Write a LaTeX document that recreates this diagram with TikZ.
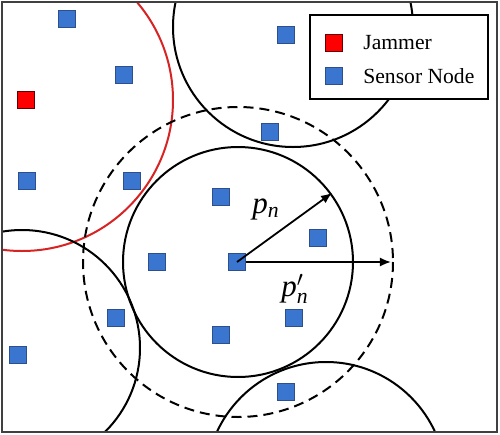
\documentclass[tikz,border=0pt]{standalone}
\usepackage{fontspec}
\setmainfont{Liberation Serif}
\usetikzlibrary{arrows.meta}

\definecolor{nodeblue}{RGB}{58,118,208}
\definecolor{nodeedge}{RGB}{45,80,140}
\definecolor{jamred}{RGB}{255,0,0}
\definecolor{rangered}{RGB}{215,35,35}

\begin{document}
\begin{tikzpicture}[>={Latex[length=5.5pt,width=4.5pt]}, x=0.5pt, y=-0.5pt,
  sensor/.style={draw=nodeedge, fill=nodeblue, line width=0.4pt, minimum size=8.2pt, inner sep=0pt},
  jammer/.style={sensor, draw=black!60!red, fill=jamred},
  rangeline/.style={line width=1pt},
  lbl/.style={font=\fontsize{15.5}{15.5}\selectfont}]

\useasboundingbox (0,0) rectangle (500,435);

%\draw[step=50, gray!30] (0,0) grid (500,435);

% ranges
\begin{scope}
\clip (2,2) rectangle (497,432);
\draw[rangeline, rangered] (22,100) circle (151);
\draw[rangeline] (293,27) circle (120);
\draw[rangeline] (22,348) circle (118);
\draw[rangeline] (326,482) circle (120);
\draw[rangeline] (238,262) circle (115);
\draw[rangeline, dash pattern=on 5pt off 3pt] (238,262) circle (155);
\end{scope}

\draw[line width=1pt, black!75] (2,2) rectangle (497,432);

% nodes
\node[jammer] (j) at (26,100) {};
\node[sensor] (s1) at (67,19) {};
\node[sensor] (s2) at (124,75) {};
\node[sensor] (s3) at (27,181) {};
\node[sensor] (s4) at (132,181) {};
\node[sensor] (s5) at (221,197) {};
\node[sensor] (s6) at (286,35) {};
\node[sensor] (s7) at (270,132) {};
\node[sensor] (s8) at (157,262) {};
\node[sensor] (s9) at (116,318) {};
\node[sensor] (s10) at (18,355) {};
\node[sensor] (s11) at (221,335) {};
\node[sensor] (s12) at (318,238) {};
\node[sensor] (s13) at (294,318) {};
\node[sensor] (s14) at (286,392) {};
\node[sensor] (c) at (237,262) {};

% radii
\coordinate (pend) at (332,193);
\coordinate (qend) at (391,262);
\draw[->, line width=0.9pt] (c.center) -- (pend);
\draw[->, line width=0.9pt] (c.east) -- (qend);

\node[lbl] (pn) at (266,209) {$\mathit{p}_{\mathit{n}}$};
\node[lbl] (qn) at (295,289) {$\mathit{p}_{\mathit{n}}^{\prime}$};

% legend
\node[draw, fill=white, line width=1pt, minimum width=89pt, minimum height=42pt, inner sep=0pt] (leg) at (399,57) {};
\node[jammer] (lj) at (334,43) {};
\node[sensor] (ls) at (334,76) {};
\node[anchor=west, inner sep=0pt, font=\fontsize{10.8}{12}\selectfont] (tj) at (363,43) {Jammer};
\node[anchor=west, inner sep=0pt, font=\fontsize{10.8}{12}\selectfont] (ts) at (363,76) {Sensor Node};

\end{tikzpicture}
\end{document}
